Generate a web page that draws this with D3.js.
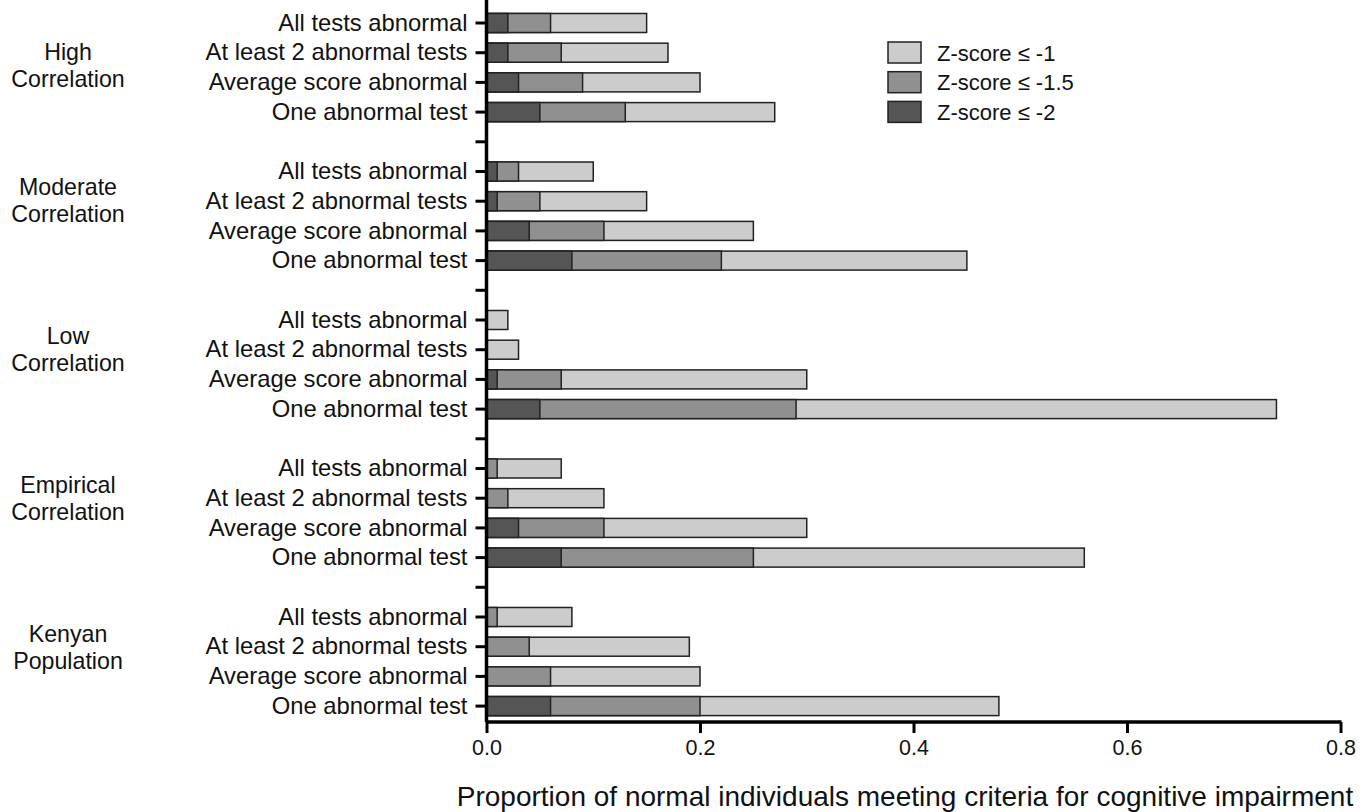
<!DOCTYPE html>
<html>
<head>
<meta charset="utf-8">
<script src="https://cdn.jsdelivr.net/npm/d3@7"></script>
<style>
  body { margin: 0; background: #fff; }
  svg { display: block; font-family: "Liberation Sans", Arial, Helvetica, sans-serif; }
</style>
</head>
<body>
<div class="chart"></div>
<script>
// groups, from top to bottom
var groups = [["High", "Correlation"], ["Moderate", "Correlation"], ["Low", "Correlation"],
              ["Empirical", "Correlation"], ["Kenyan", "Population"]];
var criteria = ["All tests abnormal", "At least 2 abnormal tests", "Average score abnormal", "One abnormal test"];
var seriesNames = ["Z-score \u2264 -1", "Z-score \u2264 -1.5", "Z-score \u2264 -2"];
var seriesColors = ["#cccccc", "#909090", "#555555"];

// values per group, in criteria order
var z1  = [[0.15, 0.17, 0.20, 0.27], [0.10, 0.15, 0.25, 0.45], [0.02, 0.03, 0.30, 0.74],
           [0.07, 0.11, 0.30, 0.56], [0.08, 0.19, 0.20, 0.48]];
var z15 = [[0.06, 0.07, 0.09, 0.13], [0.03, 0.05, 0.11, 0.22], [0.00, 0.00, 0.07, 0.29],
           [0.01, 0.02, 0.11, 0.25], [0.01, 0.04, 0.06, 0.20]];
var z2  = [[0.02, 0.02, 0.03, 0.05], [0.01, 0.01, 0.04, 0.08], [0.00, 0.00, 0.01, 0.05],
           [0.00, 0.00, 0.03, 0.07], [0.00, 0.00, 0.00, 0.06]];
var xTicks = [0, 0.2, 0.4, 0.6, 0.8];
var xTitle = "Proportion of normal individuals meeting criteria for cognitive impairment";

var svgWidth = 1368, svgHeight = 812;
var svg = d3.select(".chart").append("svg")
    .attr("width", svgWidth)
    .attr("height", svgHeight);

// slot list: 4 bars per group, an empty slot between groups
var slots = [];
groups.forEach(function(g, gi) {
    if (gi > 0) slots.push("gap" + gi);
    criteria.forEach(function(c, ci) { slots.push(gi + "|" + ci); });
});

var x = d3.scaleLinear().domain([0, 0.8]).range([486.5, 1340.5]);
var y = d3.scaleBand().domain(slots).range([8.15, 720.95]).paddingInner(0.36).paddingOuter(0.18);
var axisY = 722, axisX = x(0);

// bars: widest (z <= -1) behind, then -1.5, then -2
var allSeries = [z1, z15, z2];
allSeries.forEach(function(vals, si) {
    var rows = [];
    vals.forEach(function(arr, gi) {
        arr.forEach(function(v, ci) { if (v > 0) rows.push({key: gi + "|" + ci, v: v}); });
    });
    svg.append("g").selectAll("rect")
        .data(rows)
        .enter().append("rect")
        .attr("x", x(0))
        .attr("y", function(d) { return y(d.key); })
        .attr("width", function(d) { return x(d.v) - x(0); })
        .attr("height", y.bandwidth())
        .attr("fill", seriesColors[si])
        .attr("stroke", "#222")
        .attr("stroke-width", 1.5);
});

// y axis
var yAxis = d3.axisLeft(y)
    .tickSize(11).tickSizeOuter(0).tickPadding(8)
    .tickFormat(function(d) {
        if (d.indexOf("gap") === 0) return "";
        return criteria[+d.split("|")[1]];
    });
var gy = svg.append("g")
    .attr("transform", "translate(" + axisX + ",0)")
    .call(yAxis);
gy.select(".domain").remove();
gy.selectAll(".tick line").attr("stroke", "#000").attr("stroke-width", 3);
gy.selectAll(".tick text").attr("font-size", 23.8).attr("fill", "#111")
    .style("font-family", "'Liberation Sans', Arial, sans-serif");

// x axis
var xAxis = d3.axisBottom(x)
    .tickValues(xTicks).tickSize(11).tickSizeOuter(0).tickPadding(7)
    .tickFormat(d3.format(".1f"));
var gx = svg.append("g")
    .attr("transform", "translate(0," + axisY + ")")
    .call(xAxis);
gx.select(".domain").remove();
gx.selectAll(".tick line").attr("stroke", "#000").attr("stroke-width", 3);
gx.selectAll(".tick text").attr("font-size", 21.5).attr("fill", "#111")
    .style("font-family", "'Liberation Sans', Arial, sans-serif");

// axis lines
svg.append("line")
    .attr("x1", axisX).attr("x2", axisX).attr("y1", 0).attr("y2", axisY)
    .attr("stroke", "#000").attr("stroke-width", 3.5);
svg.append("line")
    .attr("x1", axisX).attr("x2", x(0.8) + 1).attr("y1", axisY).attr("y2", axisY)
    .attr("stroke", "#000").attr("stroke-width", 3.5);

// group labels (first one sits a bit lower in the original)
var labelShift = [13, 0, 0, 1, 1];
groups.forEach(function(lines, gi) {
    var cy = y(gi + "|1") + y.bandwidth() / 2 + labelShift[gi];
    var t = svg.append("text")
        .attr("text-anchor", "middle")
        .attr("font-size", 23.2)
        .attr("fill", "#111");
    t.append("tspan").attr("x", 68).attr("y", cy - 6).text(lines[0]);
    t.append("tspan").attr("x", 68).attr("y", cy + 21).text(lines[1]);
});

// legend
var legend = svg.append("g").attr("transform", "translate(888,42)");
seriesNames.forEach(function(name, i) {
    var row = legend.append("g").attr("transform", "translate(0," + (i * 29.7) + ")");
    row.append("rect")
        .attr("width", 33).attr("height", 21)
        .attr("fill", seriesColors[i])
        .attr("stroke", "#222").attr("stroke-width", 1.5);
    row.append("text")
        .attr("x", 49).attr("y", 18.5)
        .attr("font-size", 22)
        .attr("fill", "#111")
        .text(name);
});

// x axis title
svg.append("text")
    .attr("x", 905)
    .attr("y", 806)
    .attr("text-anchor", "middle")
    .attr("font-size", 28)
    .attr("fill", "#111")
    .text(xTitle);
</script>
</body>
</html>
